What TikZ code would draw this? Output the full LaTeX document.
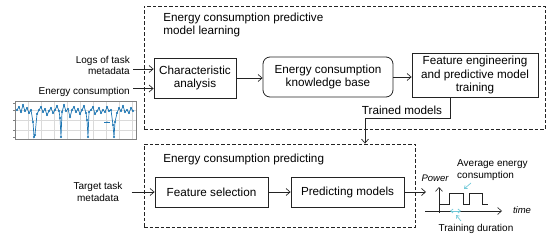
\documentclass[tikz,border=0pt]{standalone}
\usepackage{fontspec}
\setmainfont{Liberation Sans}
\usepackage{tikz}
\usetikzlibrary{arrows.meta,positioning}
\usepackage{xcolor}
\definecolor{frameGray}{RGB}{35,35,35}
\definecolor{plotBlue}{RGB}{31,119,180}
\definecolor{hintCyan}{RGB}{110,200,215}
\definecolor{gridGray}{RGB}{218,218,218}
\tikzset{
  procbox/.style={draw=frameGray, line width=0.8pt, align=center, inner sep=2pt,
                  font=\fontsize{11.7}{13.5}\selectfont},
  dashframe/.style={draw=frameGray, line width=0.8pt, dash pattern=on 3.5pt off 2pt, inner sep=0pt},
  flow/.style={draw=frameGray, line width=0.7pt, -{Straight Barb[length=4pt,width=7pt]}},
  sidelabel/.style={font=\fontsize{10}{11.5}\selectfont, inner sep=0pt},
  hint/.style={draw=hintCyan, line width=0.7pt, -{Straight Barb[length=2.5pt,width=4pt]}},
}

\begin{document}
\begin{tikzpicture}[x=1pt, y=-1pt]
        \useasboundingbox (0,0) rectangle (550,241);

        % dashed stages
        \node[dashframe, minimum width=401pt, minimum height=123pt] (learnframe) at (344.5,67.5) {};
        \node[dashframe, minimum width=271pt, minimum height=83pt] (predframe) at (279.5,185.5) {};
        \node[procbox, draw=none, anchor=west, align=left, inner sep=0pt] (learntitle) at (163,25)
          {Energy consumption predictive\\model learning};
        \node[procbox, draw=none, anchor=west, inner sep=0pt] (predtitle) at (163,159)
          {Energy consumption predicting};

        % learning boxes
        \node[procbox, minimum width=82pt, minimum height=40pt] (charbox) at (195,78)
          {Characteristic\\analysis};
        \node[procbox, rounded corners=7pt, minimum width=130pt, minimum height=40pt] (kbbox) at (328,77)
          {Energy consumption\\knowledge base};
        \node[procbox, minimum width=126pt, minimum height=44pt] (febox) at (475,75)
          {Feature engineering\\and predictive model\\training};

        % predicting boxes
        \node[procbox, minimum width=113pt, minimum height=30pt] (fsbox) at (211.5,192) {Feature selection};
        \node[procbox, minimum width=113pt, minimum height=30pt] (pmbox) at (347.5,192) {Predicting models};

        % inputs
        \node[sidelabel, align=right, anchor=east] (logslabel) at (130,65.5) {Logs of task\\metadata};
        \node[sidelabel, anchor=east] (energylabel) at (130,92) {Energy consumption};
        \node[sidelabel, align=center] (targetlabel) at (98,192) {Target task\\metadata};
        \coordinate (logsin) at (133,69);
        \coordinate (energyin) at (133,88.5);
        \draw[flow] (logsin) -- (logsin -| charbox.west);
        \draw[flow] (energyin) -- (energyin -| charbox.west);
        \draw[flow] ([xshift=9pt]targetlabel.east) -- (fsbox.west);

        % flow between boxes
        \draw[flow] (charbox.east) -- (charbox.east -| kbbox.west);
        \draw[flow] (kbbox.east) -- (kbbox.east -| febox.west);
        \draw[flow] (fsbox) -- (pmbox);
        \coordinate (trainbend) at (365,118);
        \draw[flow] ([xshift=-25pt]febox.south) |- (trainbend) -- (trainbend |- predframe.north);
        \node[procbox, draw=none, inner sep=0pt] (trainlabel) at (402,110) {Trained models};

        % energy trace
        \begin{scope}[line width=0.3pt]
          \foreach \gx in {28,41,...,132} \draw[gridGray] (\gx,101) -- (\gx,139);
          \foreach \gy in {110,120,130} \draw[gridGray] (15,\gy) -- (136,\gy);
          \foreach \gy in {103,110,120,130,137} \draw[gray] (13,\gy) -- (15,\gy);
          \draw[gray] (15,101) rectangle (136,139);
          \draw[plotBlue, line width=0.7pt, mark=*, mark size=0.7pt, mark options={fill=plotBlue}]
            plot coordinates {(17,110) (19,107) (21,112) (23,105) (25,111) (27,108) (29,113) (31,110)
              (33,122) (34,137) (35,135) (37,114) (39,110) (41,107) (43,112) (45,109) (47,115) (49,111)
              (51,108) (53,113) (55,110) (57,106) (59,111) (60,118) (61,137) (62,112) (64,105) (66,111)
              (68,109) (70,117) (72,110) (74,107) (76,112) (78,109) (80,114) (82,110) (84,106) (86,113)
              (87,120) (88,137) (89,112) (91,110) (93,107) (95,114) (97,111) (99,108) (101,113) (103,110)
              (105,112) (107,107) (109,111) (111,110) (113,125) (114,137) (115,122) (117,113) (119,108)
              (121,111) (123,106) (125,112) (127,110) (129,113) (131,108) (133,111)};
          \draw[plotBlue, line width=0.4pt] (104,122) -- (110,122);
          \fill[plotBlue] (107,122) circle (0.6pt);
        \end{scope}

        % power over time
        \coordinate (wavein) at (426,192);
        \coordinate (tstart) at (425,211);
        \coordinate (tend) at (502,211);
        \coordinate (pstart) at (439,213);
        \coordinate (pend) at (439,187);
        \draw[flow] (pmbox) -- (wavein);
        \draw[flow, line width=0.6pt] (tstart) -- (tend);
        \draw[flow, line width=0.6pt] (pstart) -- (pend);
        \draw[frameGray, line width=0.6pt] (439,204) -- (449,204) -- (449,193) -- (463,193) -- (463,204)
          -- (469,204) -- (469,193) -- (482,193) -- (482,204) -- (488,204);
        \node[sidelabel, font=\fontsize{9.5}{11}\selectfont\itshape] (powerlabel) at (435,178) {Power};
        \node[sidelabel, font=\fontsize{9.5}{11}\selectfont\itshape] (timelabel) at (522,210) {time};
        \node[sidelabel, align=left, anchor=west] (avglabel) at (457,170) {Average energy\\consumption};
        \node[sidelabel] (durlabel) at (476,229) {Training duration};
        \coordinate (durleft) at (450,211);
        \coordinate (durright) at (461,211);
        \coordinate (durfrom) at (461,221);
        \coordinate (durto) at (456,215);
        \coordinate (avgfrom) at (471,183);
        \coordinate (avgto) at (464,189);
        \draw[hint, {Straight Barb[length=2.5pt,width=4pt]}-{Straight Barb[length=2.5pt,width=4pt]}] (durleft) -- (durright);
        \draw[hint] (durfrom) -- (durto);
        \draw[hint] (avgfrom) -- (avgto);
      \end{tikzpicture}
\end{document}
